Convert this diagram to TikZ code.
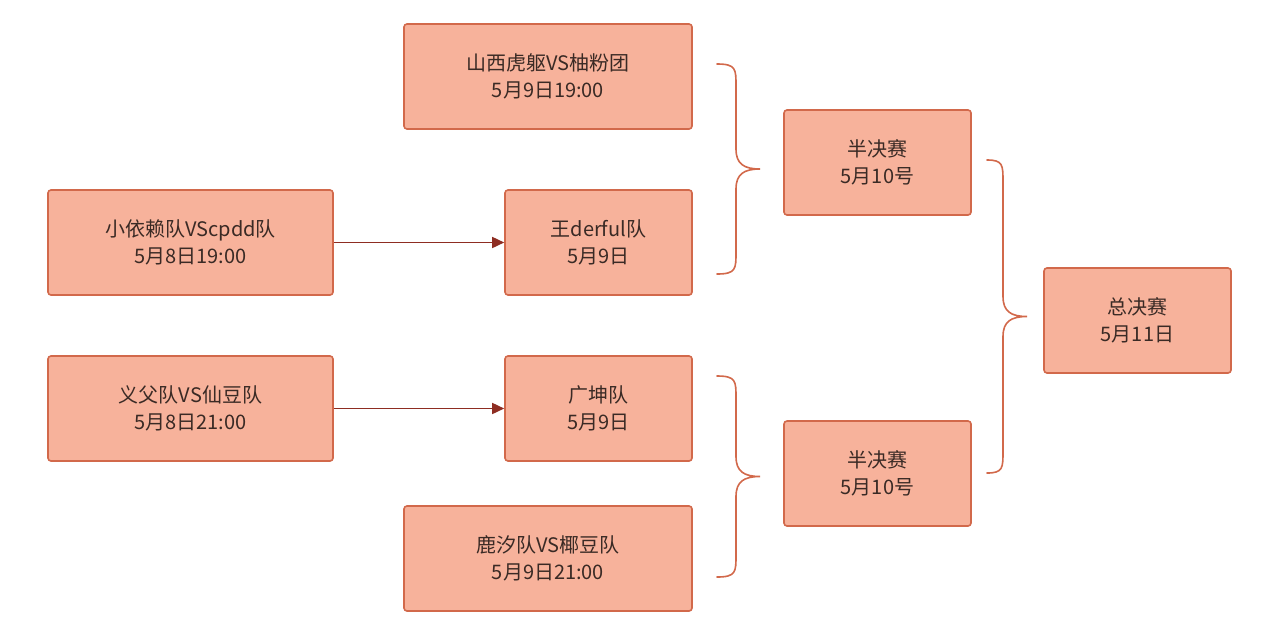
\documentclass[tikz,border=0pt]{standalone}
\usepackage{fontspec}
\setmainfont{Noto Sans CJK SC}
\usetikzlibrary{arrows.meta}
\definecolor{boxfill}{HTML}{F7B29B}
\definecolor{boxline}{HTML}{D2694B}
\definecolor{arr}{HTML}{8E2D22}
\definecolor{txt}{HTML}{3A2A25}
\begin{document}
\begin{tikzpicture}[x=1pt,y=-1pt,
  box/.style={draw=boxline,fill=boxfill,line width=1.6pt,rounded corners=3pt,inner sep=0pt,
    text=txt,font=\fontsize{20}{27}\selectfont,align=center},
  brc/.style={draw=boxline,line width=1.6pt,line cap=round},
  conn/.style={draw=arr,line width=1.6pt,-{Triangle[length=12pt,width=11pt]}}]
\useasboundingbox (0,0) rectangle (1281,640);
\fill[white] (0,0) rectangle (1281,640);
\newcommand{\bx}[6]{\node[box,minimum width=#4-#2,minimum height=#5-#3] (#1) at ({(#2+#4)/2},{(#3+#5)/2}) {#6};}
\bx{a}{404}{24}{692}{129}{山西虎躯VS柚粉团\\5月9日19:00}
\bx{b}{48}{190}{333}{295}{小依赖队VScpdd队\\5月8日19:00}
\bx{c}{505}{190}{692}{295}{王derful队\\5月9日}
\bx{d}{48}{356}{333}{461}{义父队VS仙豆队\\5月8日21:00}
\bx{e}{505}{356}{692}{461}{广坤队\\5月9日}
\bx{f}{404}{506}{692}{611}{鹿汐队VS椰豆队\\5月9日21:00}
\bx{g}{784}{110}{971}{215}{半决赛\\5月10号}
\bx{h}{784}{421}{971}{526}{半决赛\\5月10号}
\bx{i}{1044}{268}{1231}{373}{总决赛\\5月11日}
\draw[conn] (b.east) -- (c.west);
\draw[conn] (d.east) -- (e.west);
\newcommand{\mybrace}[5]{% x0 xmid xtip ytop ybot
 \path[brc] (#1,#4) .. controls (#2,#4) and (#2,{#4+5}) .. (#2,{#4+22}) -- (#2,{(#4+#5)/2-20})
   .. controls (#2,{(#4+#5)/2-5}) and ({#2+8},{(#4+#5)/2}) .. (#3,{(#4+#5)/2})
   .. controls ({#2+8},{(#4+#5)/2}) and (#2,{(#4+#5)/2+5}) .. (#2,{(#4+#5)/2+20})
   -- (#2,{#5-22}) .. controls (#2,{#5-5}) and (#2,#5) .. (#1,#5);}
\mybrace{717}{736}{760}{64}{274}
\mybrace{717}{736}{760}{376}{577}
\mybrace{987}{1003}{1027}{160}{473}
\end{tikzpicture}
\end{document}
